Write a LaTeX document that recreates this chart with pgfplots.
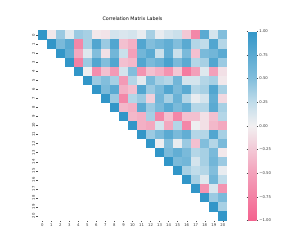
\documentclass[border=0pt]{standalone}
\usepackage{fontspec}
\setmainfont{DejaVu Sans}
\usepackage{pgfplots}
\usepackage{pgfplotstable}
\pgfplotsset{compat=1.18}
\pgfplotstableread{
x y c
0 0 1
1 0 -0.05
2 0 0.4
3 0 0.08
4 0 0.4
5 0 0.35
6 0 -0.05
7 0 -0.08
8 0 0.15
9 0 0.12
10 0 0.15
11 0 0.05
12 0 0.35
13 0 0.05
14 0 0.15
15 0 0.2
16 0 -0.25
17 0 -0.7
18 0 0.75
19 0 0.15
20 0 0.5
1 1 1
2 1 0.55
3 1 0.75
4 1 -0.7
5 1 0.35
6 1 0.8
7 1 0.4
8 1 0.8
9 1 -0.3
10 1 -0.4
11 1 0.8
12 1 0.5
13 1 0.6
14 1 0.7
15 1 0.5
16 1 0.75
17 1 0.3
18 1 0.25
19 1 0.8
20 1 0.3
2 2 1
3 2 0.7
4 2 -0.45
5 2 0.1
6 2 0.5
7 2 -0.1
8 2 0.6
9 2 0.2
10 2 -0.5
11 2 0.6
12 2 0.75
13 2 0.2
14 2 0.7
15 2 0.2
16 2 0.55
17 2 -0.3
18 2 0.55
19 2 0.6
20 2 0.75
3 3 1
4 3 -0.75
5 3 0.4
6 3 0.8
7 3 0.5
8 3 0.8
9 3 -0.3
10 3 -0.35
11 3 0.8
12 3 0.55
13 3 0.65
14 3 0.85
15 3 0.55
16 3 0.75
17 3 0.3
18 3 0.35
19 3 0.8
20 3 0.4
4 4 1
5 4 0.02
6 4 -0.65
7 4 -0.3
8 4 -0.55
9 4 0.15
10 4 0.5
11 4 -0.6
12 4 -0.3
13 4 -0.4
14 4 -0.6
15 4 -0.25
16 4 -0.8
17 4 -0.5
18 4 0.1
19 4 -0.5
20 4 -0.1
5 5 1
6 5 0.4
7 5 0.5
8 5 0.35
9 5 -0.55
10 5 0.3
11 5 0.08
12 5 0.55
13 5 0.35
14 5 0.3
15 5 0.6
16 5 0.15
17 5 0.15
18 5 0.3
19 5 0.35
20 5 -0.05
6 6 1
7 6 0.55
8 6 0.75
9 6 -0.4
10 6 -0.3
11 6 0.8
12 6 0.4
13 6 0.55
14 6 0.8
15 6 0.55
16 6 0.75
17 6 0.3
18 6 0.35
19 6 0.8
20 6 0.35
7 7 1
8 7 0.4
9 7 -0.7
10 7 0.3
11 7 0.4
12 7 -0.2
13 7 0.6
14 7 0.35
15 7 0.65
16 7 0.3
17 7 0.05
18 7 0.15
19 7 0.7
20 7 -0.15
8 8 1
9 8 -0.35
10 8 -0.4
11 8 0.75
12 8 0.4
13 8 0.55
14 8 0.75
15 8 0.55
16 8 0.7
17 8 0.3
18 8 0.3
19 8 0.75
20 8 0.35
9 9 1
10 9 -0.35
11 9 -0.4
12 9 0.35
13 9 -0.7
14 9 -0.3
15 9 -0.7
16 9 -0.3
17 9 -0.3
18 9 -0.1
19 9 -0.3
20 9 0.3
10 10 1
11 10 -0.4
12 10 -0.45
13 10 0.15
14 10 -0.45
15 10 0.3
16 10 -0.7
17 10 0.02
18 10 -0.1
19 10 -0.35
20 10 -0.45
11 11 1
12 11 0.4
13 11 0.55
14 11 0.75
15 11 0.55
16 11 0.7
17 11 0.3
18 11 0.3
19 11 0.8
20 11 0.35
12 12 1
13 12 0.02
14 12 0.5
15 12 0.05
16 12 0.4
17 12 -0.3
18 12 0.5
19 12 0.3
20 12 0.55
13 13 1
14 13 0.55
15 13 0.7
16 13 0.55
17 13 0.3
18 13 0.35
19 13 0.55
20 13 -0.05
14 14 1
15 14 0.55
16 14 0.6
17 14 0.15
18 14 0.35
19 14 0.6
20 14 0.4
15 15 1
16 15 0.35
17 15 0.25
18 15 0.3
19 15 0.5
20 15 0.05
16 16 1
17 16 0.35
18 16 0.1
19 16 0.6
20 16 0.25
17 17 1
18 17 -0.6
19 17 0.12
20 17 -0.6
18 18 1
19 18 0.4
20 18 0.55
19 19 1
20 19 0.35
20 20 1
}\corrdata
\begin{document}
\begin{tikzpicture}
\useasboundingbox (0,0) rectangle (305bp,249bp);
\begin{axis}[
  at={(37.7bp,28.5bp)}, anchor=south west,
  scale only axis, width=189.6bp, height=190bp,
  xmin=-0.5, xmax=20.5, ymin=-0.5, ymax=20.5,
  y dir=reverse,
  axis line style={draw=none},
  xtick={0,...,20}, ytick={0,...,20},
  tick align=outside, major tick length=1.6bp,
  tick style={black!70, line width=0.3bp},
  xtick pos=bottom, ytick pos=left,
  ticklabel style={font=\fontsize{3.8}{4.5}\selectfont, text=black!80},
  xticklabel style={inner sep=1pt},
  yticklabel style={rotate=90, anchor=south, inner sep=1pt},
  /pgf/number format/assume math mode=true,
  title={Correlation Matrix Labels},
  title style={font=\fontsize{4.8}{5.5}\selectfont, at={(0.5,1)}, anchor=south, inner sep=0pt, yshift=3.6bp},
  colormap={pb}{rgb255(0)=(244,98,142) rgb255(2)=(243,160,186) rgb255(4)=(242,240,241) rgb255(5)=(192,220,234) rgb255(6)=(130,190,220) rgb255(8)=(50,150,200)},
  point meta min=-1, point meta max=1,
  colorbar,
  colorbar style={
    at={(parent axis.north east)}, anchor=north west, xshift=12.4bp, yshift=-0.5bp,
    scale only axis, width=8.4bp, height=189.5bp,
    axis line style={draw=none},
    ytick={-1,-0.75,-0.5,-0.25,0,0.25,0.5,0.75,1},
    yticklabels={−1.00,−0.75,−0.50,−0.25,0.00,0.25,0.50,0.75,1.00},
    yticklabel style={font=\fontsize{3.8}{4.5}\selectfont, text=black!80, inner sep=1pt},
    tick align=outside, major tick length=1.6bp,
    tick style={black!70, line width=0.3bp},
  },
]
\addplot[scatter, only marks, mark=square*, mark size=4.1bp,
  mark options={line width=0pt},
  scatter/use mapped color={draw=mapped color, fill=mapped color},
  point meta=explicit] table[x=x, y=y, meta=c] {\corrdata};
\end{axis}
\end{tikzpicture}
\end{document}
